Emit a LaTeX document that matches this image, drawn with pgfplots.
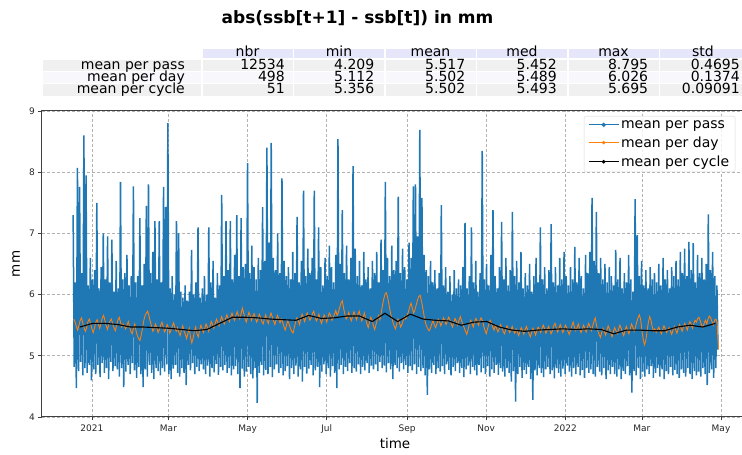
\documentclass[border=0pt]{standalone}
\usepackage{pgfplots}
\pgfplotsset{compat=1.18}
\usepackage{fontspec}
\setmainfont{DejaVu Sans}
\definecolor{mplblue}{HTML}{1F77B4}
\definecolor{mplorange}{HTML}{FF7F0E}
\definecolor{hdr}{HTML}{E6E6FA}
\definecolor{rowA}{HTML}{F0F0F0}
\definecolor{rowB}{HTML}{F7F7FC}

\begin{document}
\begin{tikzpicture}[x=1pt,y=1pt]
\useasboundingbox (0,0) rectangle (742,455);

% title
\node[font=\bfseries\fontsize{17}{20}\selectfont] at (357.5,437) {abs(ssb[t+1] - ssb[t]) in mm};

% statistics table: backgrounds
\fill[hdr] (202.7,396.7) rectangle (748,405.7);
\fill[rowA] (42.7,383.6) rectangle (748,395.7);
\fill[rowB] (42.7,371.3) rectangle (748,383.6);
\fill[rowA] (42.7,359.0) rectangle (748,371.3);
\foreach \cx in {201.8,293.3,384.8,476.3,567.8,659.3}
  \draw[white,line width=1.4pt] (\cx,358) -- (\cx,407);
\foreach \cy in {395.9,383.5,371.2}
  \draw[white,line width=0.9pt] (40,\cy) -- (748,\cy);

\begin{scope}[every node/.style={font=\fontsize{14}{15}\selectfont,inner sep=0pt}]
  % header
  \foreach \cx/\t in {247.5/nbr,339/min,430.5/mean,522/med,613.5/max,703/std}
    \node[anchor=base] at (\cx,398.3) {\t};
  % row labels
  \node[anchor=base east] at (185,385.7) {mean per pass};
  \node[anchor=base east] at (185,373.3) {mean per day};
  \node[anchor=base east] at (185,361.0) {mean per cycle};
  % values
  \foreach \cx/\a/\b/\c in {285/12534/498/51, 374.5/4.209/5.112/5.356, 465.5/5.517/5.502/5.502,
                            557/5.452/5.489/5.493, 648.3/8.795/6.026/5.695, 740/0.4695/0.1374/0.09091} {
    \node[anchor=base east] at (\cx,385.7) {\a};
    \node[anchor=base east] at (\cx,373.3) {\b};
    \node[anchor=base east] at (\cx,361.0) {\c};
  }
\end{scope}

\begin{axis}[
  at={(42pt,38pt)}, anchor=south west,
  width=706pt, height=306pt, scale only axis,
  xmin=-38.5, xmax=505.8, ymin=4, ymax=9,
  xtick={0,59,120,181,243,304,365,424,485},
  xticklabels={2021,Mar,May,Jul,Sep,Nov,2022,Mar,May},
  ytick={4,5,6,7,8,9},
  tick pos=left, tick align=outside,
  major tick length=3.5pt,
  grid=major,
  major grid style={dash pattern=on 3pt off 2pt, black!30, line width=0.6pt},
  axis line style={black!75, line width=1pt},
  tick style={black!75, line width=0.8pt},
  ticklabel style={font=\fontsize{9}{10}\selectfont, text=black!85},
  xticklabel style={yshift=-1pt},
  /pgf/number format/assume math mode=true,
  xlabel={time}, ylabel={mm},
  label style={font=\fontsize{13.5}{15}\selectfont},
  xlabel style={at={(axis description cs:0.5,-0.085)}, anchor=center},
  ylabel style={at={(axis description cs:-0.0368,0.5)}, anchor=center},
  legend style={at={(0.7677,0.9837)}, anchor=north west,
    draw=black!15, rounded corners=2pt, fill=white, fill opacity=0.8, text opacity=1,
    font=\fontsize{14}{14}\selectfont, inner xsep=4pt, inner ysep=2pt, row sep=3pt},
  legend cell align=left,
  legend image code/.code={\draw[#1,line width=0.9pt] (0pt,0pt) -- (30pt,0pt);
                           \fill[#1] (15pt,0pt) circle (1.2pt);},
]

% mean per pass
\addplot[mplblue, line width=1.5pt] table[header=false, row sep=\\, x expr=\coordindex*0.83-14.5, y index=0] {
7.30\\4.82\\6.20\\4.47\\8.07\\4.75\\7.76\\4.90\\6.35\\4.68\\8.60\\4.80\\7.95\\4.72\\6.15\\4.85\\6.60\\4.60\\6.25\\4.78\\
6.40\\4.70\\7.50\\4.85\\6.10\\4.65\\6.45\\4.88\\7.00\\4.72\\6.25\\4.80\\6.95\\4.62\\6.20\\4.90\\6.90\\4.75\\6.05\\4.83\\
6.55\\4.78\\6.10\\4.66\\7.84\\4.80\\6.25\\4.49\\6.35\\4.74\\6.65\\4.85\\6.15\\4.70\\6.30\\4.88\\7.77\\4.76\\6.20\\4.64\\
6.30\\4.82\\7.25\\4.70\\6.15\\4.49\\6.50\\4.78\\7.45\\4.66\\7.80\\4.85\\6.35\\4.72\\6.70\\4.62\\7.20\\4.80\\6.25\\4.75\\
7.20\\4.68\\6.20\\4.80\\7.76\\4.74\\7.43\\4.86\\8.80\\4.70\\6.10\\4.62\\6.30\\4.79\\6.00\\4.85\\7.20\\4.72\\7.00\\4.66\\
6.05\\4.80\\5.95\\4.72\\6.15\\4.52\\5.90\\4.85\\6.05\\4.76\\6.73\\4.88\\6.00\\4.70\\6.20\\4.82\\7.10\\4.75\\5.95\\4.86\\
6.10\\4.78\\6.30\\4.70\\6.00\\4.84\\7.10\\4.66\\6.20\\4.80\\6.55\\4.73\\5.95\\4.87\\6.35\\4.69\\6.15\\4.82\\7.63\\4.76\\
6.30\\4.85\\7.20\\4.72\\6.40\\4.80\\7.20\\4.68\\6.25\\4.78\\6.65\\4.83\\7.30\\4.70\\6.30\\4.47\\7.25\\4.79\\6.45\\4.66\\
6.50\\4.74\\8.15\\4.82\\6.35\\4.70\\6.80\\4.63\\6.45\\4.80\\6.25\\4.23\\6.60\\4.72\\6.40\\4.85\\7.43\\4.68\\6.55\\4.77\\
8.40\\4.70\\6.85\\4.82\\8.48\\4.65\\6.60\\4.78\\6.40\\4.86\\7.00\\4.72\\6.35\\4.80\\7.90\\4.68\\6.55\\4.75\\6.30\\4.83\\
6.45\\4.62\\6.25\\4.80\\6.70\\4.70\\6.35\\4.84\\7.27\\4.66\\6.20\\4.78\\6.55\\4.58\\7.70\\4.82\\6.30\\4.71\\6.75\\4.79\\
6.35\\4.85\\6.60\\4.68\\7.70\\4.76\\6.25\\4.82\\7.10\\4.49\\6.45\\4.74\\6.15\\4.86\\6.60\\4.70\\6.30\\4.80\\6.80\\4.66\\
6.45\\4.83\\6.20\\4.72\\6.65\\4.47\\8.54\\4.78\\6.50\\4.85\\7.38\\4.70\\6.35\\4.82\\6.80\\4.75\\6.25\\4.88\\6.60\\4.72\\
8.10\\4.80\\6.75\\4.74\\6.30\\4.86\\6.55\\4.70\\6.15\\4.82\\6.70\\4.76\\6.25\\4.88\\6.45\\4.72\\6.10\\4.84\\6.55\\4.78\\
6.35\\4.86\\6.70\\4.75\\6.20\\4.90\\6.90\\4.80\\6.40\\4.84\\7.84\\4.73\\6.60\\4.88\\6.30\\4.78\\6.80\\4.62\\6.40\\4.85\\
6.55\\4.80\\7.60\\4.74\\6.35\\4.88\\6.75\\4.78\\6.45\\4.85\\6.25\\4.72\\6.85\\4.83\\6.60\\4.76\\7.77\\4.86\\7.80\\4.70\\
6.95\\4.82\\8.69\\4.75\\7.58\\4.80\\6.65\\4.68\\6.40\\4.36\\6.30\\4.78\\6.55\\4.72\\6.20\\4.85\\6.40\\4.70\\6.10\\4.80\\
6.35\\4.74\\7.46\\4.83\\6.15\\4.70\\6.45\\4.86\\6.05\\4.77\\6.30\\4.68\\6.00\\4.82\\6.40\\4.75\\6.10\\4.88\\6.25\\4.72\\
6.15\\4.80\\6.45\\4.65\\7.17\\4.78\\6.10\\4.84\\6.30\\4.70\\7.10\\4.82\\6.20\\4.76\\6.55\\4.68\\6.05\\4.85\\6.35\\4.73\\
8.35\\4.80\\6.25\\4.70\\6.50\\4.83\\6.15\\4.66\\6.65\\4.78\\7.38\\4.72\\6.30\\4.85\\6.10\\4.69\\6.45\\4.80\\7.19\\4.74\\
6.25\\4.66\\6.60\\4.80\\6.15\\4.72\\6.40\\4.58\\7.35\\4.75\\6.30\\4.25\\6.55\\4.70\\6.20\\4.82\\6.70\\4.64\\6.10\\4.77\\
6.35\\4.70\\6.15\\4.82\\6.50\\4.62\\6.05\\4.28\\6.30\\4.76\\6.60\\4.68\\6.20\\4.80\\7.10\\4.72\\6.25\\4.65\\6.45\\4.78\\
6.10\\4.82\\6.40\\4.70\\7.15\\4.76\\6.20\\4.63\\6.45\\4.80\\6.15\\4.72\\6.60\\4.66\\6.25\\4.79\\6.70\\4.70\\6.30\\4.84\\
6.15\\4.74\\6.45\\4.66\\6.25\\4.80\\6.78\\4.70\\6.20\\4.82\\6.60\\4.68\\6.30\\4.77\\6.10\\4.64\\6.65\\4.80\\6.35\\4.72\\
6.70\\4.78\\7.58\\4.70\\6.55\\4.66\\7.35\\4.82\\6.35\\4.74\\6.60\\4.68\\6.25\\4.80\\6.50\\4.62\\6.20\\4.76\\6.45\\4.70\\
6.30\\4.82\\6.15\\4.70\\6.73\\4.66\\6.25\\4.78\\6.60\\4.62\\6.10\\4.75\\6.35\\4.70\\6.20\\4.83\\6.65\\4.68\\6.25\\4.40\\
6.05\\4.75\\7.56\\4.68\\6.97\\4.80\\6.30\\4.62\\6.55\\4.74\\6.15\\4.66\\6.40\\4.78\\6.10\\4.70\\6.45\\4.83\\6.25\\4.64\\
6.35\\4.72\\6.20\\4.80\\6.50\\4.66\\6.15\\4.78\\6.60\\4.62\\6.25\\4.75\\6.40\\4.70\\6.10\\4.82\\6.45\\4.68\\6.30\\4.77\\
6.55\\4.70\\6.25\\4.64\\6.70\\4.78\\6.35\\4.72\\6.75\\4.66\\6.30\\4.80\\6.86\\4.70\\6.40\\4.62\\6.84\\4.75\\6.20\\4.68\\
6.65\\4.74\\6.35\\4.66\\6.60\\4.80\\6.25\\4.70\\6.50\\4.52\\7.31\\4.72\\6.40\\4.78\\6.70\\4.64\\6.30\\4.80\\6.15\\5.10\\
};
\addlegendentry{mean per pass}

% mean per day
\addplot[mplorange, line width=0.9pt] table[header=false, row sep=\\, x expr=\coordindex-14, y index=0] {
5.60\\5.55\\5.48\\5.42\\5.50\\5.58\\5.62\\5.53\\5.45\\5.40\\5.47\\5.56\\5.60\\5.52\\5.44\\5.38\\5.46\\5.55\\5.59\\5.51\\
5.45\\5.53\\5.62\\5.66\\5.58\\5.49\\5.43\\5.51\\5.57\\5.60\\5.52\\5.46\\5.41\\5.50\\5.58\\5.63\\5.55\\5.47\\5.52\\5.49\\
5.44\\5.50\\5.56\\5.48\\5.40\\5.36\\5.45\\5.52\\5.41\\5.33\\5.28\\5.25\\5.34\\5.45\\5.58\\5.66\\5.70\\5.73\\5.65\\5.56\\
5.48\\5.40\\5.45\\5.52\\5.46\\5.38\\5.43\\5.50\\5.55\\5.47\\5.39\\5.44\\5.51\\5.46\\5.37\\5.42\\5.49\\5.54\\5.45\\5.40\\
5.46\\5.38\\5.33\\5.42\\5.49\\5.41\\5.35\\5.28\\5.37\\5.45\\5.30\\5.21\\5.29\\5.40\\5.47\\5.36\\5.31\\5.42\\5.50\\5.44\\
5.38\\5.45\\5.52\\5.47\\5.40\\5.48\\5.56\\5.51\\5.45\\5.53\\5.60\\5.55\\5.49\\5.57\\5.64\\5.58\\5.52\\5.60\\5.67\\5.61\\
5.56\\5.64\\5.70\\5.62\\5.58\\5.66\\5.72\\5.65\\5.60\\5.69\\5.78\\5.70\\5.61\\5.55\\5.63\\5.71\\5.66\\5.58\\5.64\\5.69\\
5.62\\5.55\\5.60\\5.68\\5.63\\5.56\\5.52\\5.61\\5.67\\5.58\\5.53\\5.62\\5.70\\5.64\\5.57\\5.51\\5.59\\5.66\\5.60\\5.54\\
5.60\\5.55\\5.48\\5.42\\5.50\\5.57\\5.52\\5.45\\5.40\\5.37\\5.46\\5.55\\5.62\\5.58\\5.51\\5.60\\5.68\\5.63\\5.56\\5.64\\
5.70\\5.65\\5.58\\5.62\\5.69\\5.73\\5.64\\5.57\\5.61\\5.68\\5.59\\5.53\\5.60\\5.67\\5.62\\5.55\\5.63\\5.70\\5.66\\5.58\\
5.62\\5.68\\5.74\\5.66\\5.71\\5.79\\5.86\\5.90\\5.78\\5.68\\5.60\\5.64\\5.71\\5.63\\5.57\\5.65\\5.72\\5.66\\5.59\\5.67\\
5.73\\5.65\\5.57\\5.62\\5.70\\5.61\\5.52\\5.46\\5.55\\5.63\\5.58\\5.49\\5.43\\5.51\\5.60\\5.66\\5.59\\5.70\\5.82\\5.93\\
6.01\\6.03\\5.95\\5.84\\5.72\\5.63\\5.55\\5.49\\5.44\\5.52\\5.60\\5.55\\5.47\\5.51\\5.58\\5.64\\5.60\\5.66\\5.72\\5.80\\
5.86\\5.78\\5.70\\5.75\\5.83\\5.91\\5.97\\5.99\\5.90\\5.79\\5.66\\5.55\\5.48\\5.44\\5.41\\5.45\\5.52\\5.58\\5.50\\5.46\\
5.53\\5.60\\5.56\\5.49\\5.55\\5.62\\5.58\\5.51\\5.57\\5.63\\5.59\\5.52\\5.47\\5.55\\5.61\\5.56\\5.50\\5.58\\5.64\\5.57\\
5.51\\5.46\\5.40\\5.35\\5.43\\5.52\\5.58\\5.53\\5.47\\5.55\\5.61\\5.56\\5.50\\5.57\\5.62\\5.58\\5.49\\5.42\\5.36\\5.44\\
5.52\\5.58\\5.53\\5.47\\5.42\\5.50\\5.45\\5.39\\5.44\\5.51\\5.46\\5.40\\5.36\\5.43\\5.49\\5.44\\5.38\\5.42\\5.48\\5.41\\
5.37\\5.44\\5.39\\5.33\\5.40\\5.46\\5.41\\5.35\\5.43\\5.48\\5.42\\5.36\\5.31\\5.38\\5.45\\5.40\\5.34\\5.41\\5.47\\5.43\\
5.38\\5.45\\5.50\\5.44\\5.37\\5.42\\5.48\\5.43\\5.36\\5.41\\5.49\\5.53\\5.46\\5.39\\5.44\\5.51\\5.45\\5.38\\5.43\\5.50\\
5.46\\5.40\\5.35\\5.42\\5.49\\5.55\\5.47\\5.41\\5.46\\5.52\\5.44\\5.38\\5.43\\5.50\\5.45\\5.39\\5.47\\5.53\\5.48\\5.41\\
5.48\\5.56\\5.62\\5.50\\5.41\\5.35\\5.30\\5.38\\5.45\\5.40\\5.34\\5.42\\5.49\\5.44\\5.37\\5.31\\5.39\\5.46\\5.41\\5.36\\
5.43\\5.50\\5.45\\5.38\\5.33\\5.41\\5.48\\5.42\\5.36\\5.44\\5.52\\5.47\\5.40\\5.46\\5.55\\5.62\\5.67\\5.60\\5.42\\5.27\\
5.18\\5.25\\5.40\\5.55\\5.64\\5.58\\5.47\\5.40\\5.44\\5.38\\5.42\\5.47\\5.41\\5.36\\5.43\\5.49\\5.44\\5.38\\5.42\\5.46\\
5.40\\5.35\\5.42\\5.48\\5.43\\5.37\\5.44\\5.51\\5.46\\5.40\\5.47\\5.53\\5.48\\5.42\\5.50\\5.56\\5.51\\5.45\\5.52\\5.58\\
5.55\\5.61\\5.63\\5.57\\5.50\\5.46\\5.53\\5.58\\5.52\\5.60\\5.65\\5.62\\5.56\\5.50\\5.58\\5.60\\5.54\\5.11\\
};
\addlegendentry{mean per day}

% mean per cycle
\addplot[black, line width=1.1pt] table[header=false, row sep=\\, x expr=\coordindex*9.8-9.3, y index=0] {
5.47\\5.53\\5.53\\5.51\\5.47\\5.47\\5.46\\5.45\\5.43\\5.41\\5.43\\5.53\\5.63\\5.63\\5.62\\5.60\\5.59\\5.58\\5.66\\5.61\\
5.62\\5.65\\5.65\\5.56\\5.695\\5.56\\5.68\\5.60\\5.58\\5.57\\5.50\\5.55\\5.56\\5.47\\5.42\\5.40\\5.42\\5.43\\5.44\\5.43\\
5.44\\5.43\\5.36\\5.42\\5.42\\5.41\\5.41\\5.47\\5.50\\5.47\\5.53\\
};
\addlegendentry{mean per cycle}

\end{axis}
\end{tikzpicture}
\end{document}
